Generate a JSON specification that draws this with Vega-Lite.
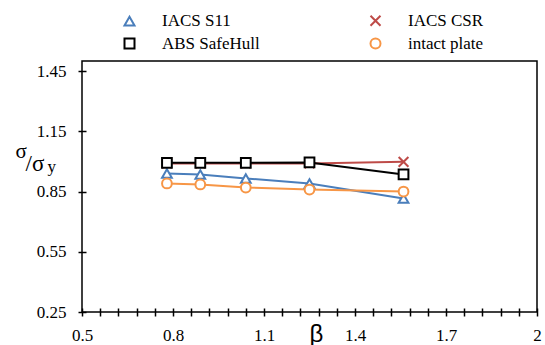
{
  "$schema": "https://vega.github.io/schema/vega-lite/v6.json",
  "width": 455,
  "height": 251,
  "autosize": "none",
  "padding": {"left": 82, "top": 61, "right": 8, "bottom": 33},
  "background": "white",
  "config": {
    "font": "Times New Roman, Liberation Serif, serif",
    "view": {"stroke": "black", "strokeWidth": 1.5},
    "axis": {
      "grid": false,
      "labelColor": "black",
      "tickColor": "black",
      "tickWidth": 1.5,
      "titleColor": "black",
      "titleFontWeight": "normal",
      "titleAngle": 0,
      "titleAlign": "left",
      "titleBaseline": "alphabetic"
    },
    "legend": {
      "orient": "none",
      "legendX": 39,
      "legendY": -49,
      "direction": "horizontal",
      "columns": 2,
      "labelFont": "Times New Roman, Liberation Serif, serif",
      "labelFontSize": 17,
      "labelColor": "black",
      "labelLimit": 300,
      "labelOffset": 24,
      "columnPadding": 106,
      "rowPadding": 4,
      "symbolSize": 100,
      "symbolStrokeWidth": 2,
      "symbolFillColor": "white"
    }
  },
  "data": {
    "values": [
      {"series": "IACS S11", "beta": 0.78, "ratio": 0.94},
      {"series": "IACS S11", "beta": 0.89, "ratio": 0.935},
      {"series": "IACS S11", "beta": 1.04, "ratio": 0.915},
      {"series": "IACS S11", "beta": 1.25, "ratio": 0.89},
      {"series": "IACS S11", "beta": 1.56, "ratio": 0.815},
      {"series": "IACS CSR", "beta": 0.78, "ratio": 0.99},
      {"series": "IACS CSR", "beta": 0.89, "ratio": 0.99},
      {"series": "IACS CSR", "beta": 1.04, "ratio": 0.99},
      {"series": "IACS CSR", "beta": 1.25, "ratio": 0.99},
      {"series": "IACS CSR", "beta": 1.56, "ratio": 0.998},
      {"series": "ABS SafeHull", "beta": 0.78, "ratio": 0.993},
      {"series": "ABS SafeHull", "beta": 0.89, "ratio": 0.993},
      {"series": "ABS SafeHull", "beta": 1.04, "ratio": 0.993},
      {"series": "ABS SafeHull", "beta": 1.25, "ratio": 0.995},
      {"series": "ABS SafeHull", "beta": 1.56, "ratio": 0.935},
      {"series": "intact plate", "beta": 0.78, "ratio": 0.89},
      {"series": "intact plate", "beta": 0.89, "ratio": 0.885},
      {"series": "intact plate", "beta": 1.04, "ratio": 0.87},
      {"series": "intact plate", "beta": 1.25, "ratio": 0.86},
      {"series": "intact plate", "beta": 1.56, "ratio": 0.85}
    ]
  },
  "layer": [
    {
      "mark": {"type": "line", "strokeWidth": 2},
      "encoding": {
        "x": {
          "field": "beta", "type": "quantitative",
          "scale": {"domain": [0.5, 2], "nice": false, "zero": false},
          "axis": {
            "orient": "bottom",
            "values": [0.5, 0.56, 0.62, 0.68, 0.74, 0.8, 0.86, 0.92, 0.98, 1.04, 1.1, 1.16, 1.22, 1.28, 1.34, 1.4, 1.46, 1.52, 1.58, 1.64, 1.7, 1.76, 1.82, 1.88, 1.94, 2.0],
            "format": ".2~f",
            "labelExpr": "indexof(['0.5','0.8','1.1','1.4','1.7','2'], datum.label) >= 0 ? datum.label : ''",
            "labelFont": "Times New Roman, Liberation Serif, serif",
            "labelFontSize": 17,
            "labelOverlap": false,
            "labelFlush": false,
            "domain": false,
            "offset": -4,
            "tickSize": 8,
            "labelPadding": 11,
            "title": "β",
            "titleFont": "Liberation Sans",
            "titleFontSize": 24,
            "titleAlign": "center",
            "titleX": 234,
            "titleY": 33
          }
        },
        "y": {
          "field": "ratio", "type": "quantitative",
          "scale": {"domain": [0.25, 1.5], "nice": false, "zero": false},
          "axis": {
            "orient": "left",
            "values": [0.25, 0.55, 0.85, 1.15, 1.45],
            "format": ".2f",
            "labelFont": "Times New Roman, Liberation Serif, serif",
            "labelFontSize": 17,
            "domain": false,
            "offset": -4,
            "tickSize": 8,
            "labelPadding": 12,
            "title": "σ",
            "titleFont": "Times New Roman, Liberation Serif, serif",
            "titleFontSize": 21,
            "titleX": -71,
            "titleY": 96
          }
        },
        "color": {
          "field": "series", "type": "nominal",
          "scale": {
            "domain": ["IACS S11", "IACS CSR", "ABS SafeHull", "intact plate"],
            "range": ["#4a7ebb", "#be4b48", "#000000", "#f79646"]
          }
        }
      }
    },
    {
      "mark": {"type": "point", "filled": false, "fill": "white", "strokeWidth": 2, "size": 95, "opacity": 1},
      "encoding": {
        "x": {
          "field": "beta", "type": "quantitative",
          "axis": {
            "orient": "bottom",
            "ticks": false, "labels": false, "domain": false,
            "title": "y",
            "titleFont": "Times New Roman, Liberation Serif, serif",
            "titleFontSize": 17,
            "titleX": -35,
            "titleY": -141
          }
        },
        "y": {
          "field": "ratio", "type": "quantitative",
          "axis": {
            "orient": "left",
            "ticks": false, "labels": false, "domain": false,
            "title": "/σ",
            "titleFont": "Times New Roman, Liberation Serif, serif",
            "titleFontSize": 23,
            "titleX": -57,
            "titleY": 109
          }
        },
        "color": {
          "field": "series", "type": "nominal",
          "legend": {"title": null}
        },
        "shape": {
          "field": "series", "type": "nominal",
          "scale": {
            "domain": ["IACS S11", "IACS CSR", "ABS SafeHull", "intact plate"],
            "range": ["triangle-up", "M-1,-1L1,1M1,-1L-1,1", "square", "circle"]
          },
          "legend": {"title": null}
        }
      }
    }
  ],
  "resolve": {"axis": {"x": "independent", "y": "independent"}}
}
